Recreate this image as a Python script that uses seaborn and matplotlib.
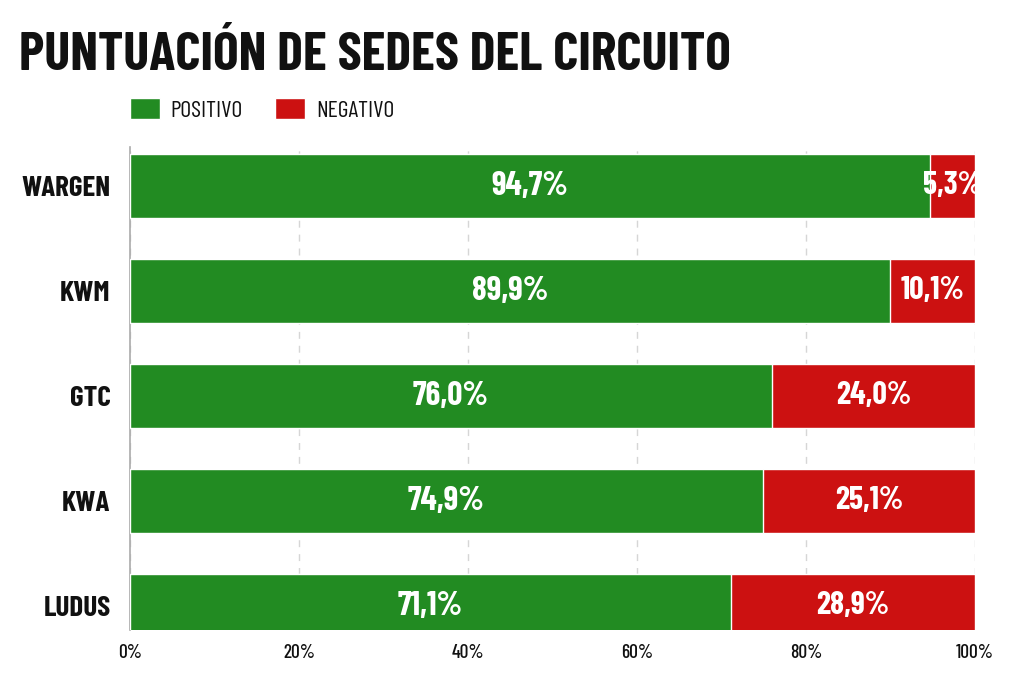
import matplotlib
matplotlib.use("Agg")
import matplotlib.pyplot as plt
import seaborn as sns
import pandas as pd
from matplotlib import font_manager as fm
from matplotlib.patches import Patch

categories = ["WARGEN", "KWM", "GTC", "KWA", "LUDUS"]
positivo = [94.7, 89.9, 76.0, 74.9, 71.1]
negativo = [5.3, 10.1, 24.0, 25.1, 28.9]
tick_vals = [0, 20, 40, 60, 80, 100]
tick_labels = ["0%", "20%", "40%", "60%", "80%", "100%"]
series_names = ["POSITIVO", "NEGATIVO"]

GREEN = "#228B22"
RED = "#CC1111"
INK = "#111111"

sns.set_theme(style="white")
names = {f.name for f in fm.fontManager.ttflist}
FONT = "DejaVu Sans"
for cand in ["Barlow Condensed", "Roboto Condensed", "Saira ExtraCondensed", "PT Sans Narrow",
             "Open Sans Condensed"]:
    if cand in names:
        FONT = cand
        break
plt.rcParams["font.family"] = [FONT, "DejaVu Sans"]

df = pd.DataFrame({"sede": categories, "pos": positivo, "neg": negativo})
df["total"] = df["pos"] + df["neg"]

fig = plt.figure(figsize=(10.24, 6.83), dpi=100)
ax = fig.add_axes([130/1024, 1-630/683, 845/1024, 483/683])

sns.barplot(data=df, y="sede", x="total", color=RED, orient="h", width=0.61,
            ax=ax, edgecolor="white", linewidth=1, saturation=1, zorder=2)
sns.barplot(data=df, y="sede", x="pos", color=GREEN, orient="h", width=0.61,
            ax=ax, edgecolor="white", linewidth=1, saturation=1, zorder=3)

for i, (p, n) in enumerate(zip(positivo, negativo)):
    ax.text(p/2, i, f"{p:.1f}%".replace(".", ","), ha="center", va="center",
            color="white", fontsize=24, fontweight="bold", zorder=4)
    ax.text(p + n/2, i, f"{n:.1f}%".replace(".", ","), ha="center", va="center",
            color="white", fontsize=23, fontweight="bold", zorder=4)

ax.set_xlim(0, 100)
ax.set_ylim(4.23, -0.37)
ax.set_xticks(tick_vals)
ax.set_xticklabels(tick_labels, fontsize=14, color=INK)
ax.tick_params(axis="y", labelsize=21, length=0, pad=14, labelcolor=INK)
for lab in ax.get_yticklabels():
    lab.set_fontweight("bold")
for lab in ax.get_xticklabels():
    lab.set_fontweight("medium")
ax.tick_params(axis="x", length=0, pad=10)
ax.set_xlabel("")
ax.set_ylabel("")
ax.xaxis.grid(True, linestyle=(0, (5, 5)), color="#d6d6d6", linewidth=1)
ax.set_axisbelow(True)
for s in ["top", "right", "bottom"]:
    ax.spines[s].set_visible(False)
ax.spines["left"].set_color("#aaaaaa")
ax.spines["left"].set_linewidth(1.2)

fig.text(19/1024, 1-70/683, "PUNTUACIÓN DE SEDES DEL CIRCUITO", fontsize=39,
         fontweight="bold", color=INK, ha="left", va="baseline")

for name, col, x0 in zip(series_names, [GREEN, RED], [130, 275]):
    fig.legend(handles=[Patch(facecolor=col, label=name)], loc="center left",
               bbox_to_anchor=(x0/1024, 1-110/683), frameon=False, fontsize=17,
               handlelength=1.28, handleheight=0.95, handletextpad=0.45,
               borderpad=0, borderaxespad=0, labelcolor=INK)

fig.savefig("out.png", dpi=100)
